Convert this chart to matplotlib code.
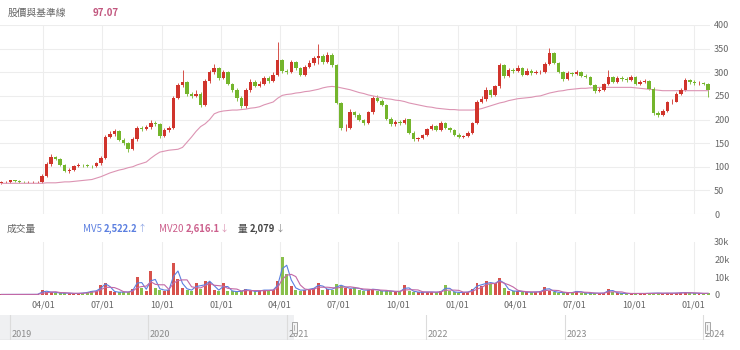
import numpy as np
import pandas as pd
import matplotlib
matplotlib.use("Agg")
import matplotlib.pyplot as plt
import matplotlib.dates as mdates
from matplotlib.patches import Rectangle

plt.rcParams['font.family'] = ['Noto Sans CJK TC', 'DejaVu Sans']

# ---------------------------------------------------------
# data (weekly candles, first week 2021-01-26)
# ---------------------------------------------------------
week_start = "2021-01-26"

closes = [67, 68, 71, 70, 68, 67, 67, 67, 67, 80,
          105, 120, 117, 104, 90, 94, 101, 104, 103, 102,
          101, 107, 118, 164, 170, 175, 157, 150, 138, 158,
          183, 180, 184, 192, 190, 165, 178, 182, 245, 272,
          280, 255, 250, 255, 230, 282, 300, 310, 287, 300,
          275, 263, 245, 228, 262, 280, 271, 276, 288, 282,
          295, 325, 303, 300, 322, 308, 295, 312, 320, 330,
          335, 322, 337, 315, 235, 182, 183, 215, 210, 199,
          192, 215, 246, 240, 230, 202, 190, 195, 193, 200,
          172, 158, 161, 167, 180, 186, 178, 192, 182, 177,
          168, 163, 165, 172, 192, 238, 244, 262, 252, 270,
          315, 292, 304, 303, 310, 295, 303, 298, 300, 300,
          318, 340, 320, 300, 285, 298, 296, 300, 293, 290,
          274, 260, 263, 275, 290, 280, 288, 285, 283, 290,
          275, 280, 281, 265, 213, 210, 218, 237, 238, 255,
          262, 283, 279, 277, 277, 275, 262]

opens = [66, 67, 68, 71, 70, 68, 67, 67, 67, 67,
         80, 105, 120, 117, 104, 90, 94, 101, 104, 103,
         102, 101, 107, 118, 164, 170, 175, 157, 150, 138,
         158, 183, 180, 184, 192, 190, 165, 178, 182, 245,
         272, 280, 255, 250, 255, 230, 282, 300, 310, 287,
         300, 275, 263, 245, 228, 262, 280, 271, 276, 288,
         282, 295, 325, 303, 300, 322, 308, 295, 312, 320,
         330, 335, 322, 337, 315, 235, 182, 183, 215, 210,
         199, 192, 215, 246, 240, 230, 202, 190, 195, 193,
         200, 172, 158, 161, 167, 180, 186, 178, 192, 182,
         177, 168, 163, 165, 172, 192, 238, 244, 262, 252,
         270, 315, 292, 304, 303, 310, 295, 303, 298, 300,
         300, 318, 340, 320, 300, 285, 298, 296, 300, 293,
         290, 274, 260, 263, 275, 290, 280, 288, 285, 283,
         290, 275, 280, 281, 265, 213, 210, 218, 237, 238,
         255, 262, 283, 279, 277, 277, 275]

highs = [69, 70, 73, 73, 71, 69, 69, 69, 69, 84,
         110, 126, 122, 118, 105, 97, 104, 107, 106, 105,
         104, 110, 122, 168, 175, 180, 177, 160, 152, 162,
         187, 186, 189, 198, 196, 192, 182, 186, 250, 278,
         305, 282, 258, 262, 258, 286, 305, 318, 312, 304,
         302, 278, 266, 250, 266, 286, 283, 281, 292, 292,
         300, 365, 328, 306, 326, 324, 311, 316, 325, 335,
         360, 338, 342, 340, 318, 238, 190, 222, 218, 213,
         201, 218, 250, 252, 244, 232, 206, 200, 198, 203,
         202, 176, 164, 170, 183, 190, 188, 196, 194, 185,
         180, 171, 168, 175, 195, 242, 250, 268, 265, 274,
         320, 318, 310, 310, 315, 312, 308, 306, 304, 305,
         322, 352, 342, 322, 302, 302, 300, 304, 302, 296,
         292, 276, 268, 278, 305, 292, 292, 292, 290, 294,
         292, 284, 285, 284, 268, 218, 222, 240, 243, 258,
         266, 287, 286, 284, 282, 280, 278]

lows = [64, 65, 66, 68, 66, 65, 65, 65, 65, 66,
        78, 102, 114, 102, 88, 87, 92, 99, 100, 99,
        98, 99, 104, 116, 160, 165, 155, 146, 132, 135,
        155, 176, 177, 180, 186, 160, 162, 174, 180, 243,
        268, 250, 245, 247, 226, 228, 278, 296, 284, 285,
        272, 258, 240, 225, 224, 258, 268, 268, 272, 278,
        280, 292, 298, 296, 298, 305, 292, 292, 308, 316,
        318, 318, 320, 312, 232, 178, 175, 180, 205, 196,
        188, 190, 212, 236, 228, 200, 186, 187, 189, 190,
        170, 154, 155, 158, 165, 178, 175, 176, 180, 174,
        165, 160, 160, 162, 170, 190, 234, 240, 248, 250,
        266, 288, 290, 298, 300, 292, 294, 295, 296, 297,
        298, 316, 318, 298, 282, 284, 292, 295, 290, 288,
        272, 256, 258, 260, 272, 278, 278, 282, 280, 282,
        272, 272, 277, 262, 210, 205, 207, 215, 233, 236,
        252, 260, 276, 274, 272, 272, 248]

base_line = [65, 65, 65, 65, 65, 65, 65, 65, 65, 65,
             66, 66, 66, 67, 68, 68, 69, 70, 71, 72,
             73, 76, 79, 83, 87, 90, 93, 95, 98, 100,
             104, 107, 110, 118, 125, 131, 133, 135, 136, 137,
             141, 152, 163, 175, 185, 191, 200, 212, 216, 218,
             219, 220, 220, 221, 222, 224, 225, 227, 231, 234,
             237, 245, 251, 253, 254, 256, 257, 259, 260, 262,
             264, 267, 269, 270, 269, 267, 265, 263, 260, 257,
             255, 252, 250, 248, 246, 244, 243, 241, 240, 238,
             235, 233, 231, 229, 227, 226, 224, 223, 222, 221,
             221, 220, 220, 220, 220, 221, 223, 226, 229, 232,
             235, 237, 240, 242, 244, 245, 246, 247, 249, 250,
             253, 256, 258, 260, 261, 263, 264, 265, 266, 266,
             267, 267, 268, 268, 268, 268, 268, 268, 268, 268,
             267, 266, 265, 264, 263, 262, 261, 261, 261, 261,
             261, 261, 261, 261, 261, 261, 261]

# volume in thousands of shares
volume_k = [0.3, 0.3, 0.3, 0.3, 0.3, 0.3, 0.3, 0.3, 0.4, 2.8,
            1.5, 1.8, 1.2, 1.0, 1.2, 0.9, 0.8, 0.9, 1.3, 1.6,
            2.5, 2.2, 5.6, 7.0, 2.5, 1.5, 1.6, 1.8, 1.5, 3.5,
            10.0, 4.0, 2.5, 13.5, 4.0, 3.0, 2.5, 3.0, 18.0, 9.0,
            4.0, 3.0, 2.5, 7.0, 3.5, 8.0, 7.5, 3.0, 2.5, 7.0,
            2.5, 2.0, 1.8, 2.5, 3.5, 2.0, 2.0, 2.5, 3.0, 2.5,
            3.0, 8.0, 21.5, 12.0, 5.0, 3.0, 2.5, 3.0, 3.5, 4.0,
            7.0, 3.0, 3.5, 3.0, 6.0, 5.0, 4.0, 3.5, 4.5, 3.0,
            2.5, 3.0, 3.5, 2.5, 2.0, 2.5, 2.0, 1.8, 2.0, 5.5,
            2.5, 1.8, 1.5, 1.5, 1.8, 1.6, 1.5, 2.0, 5.5, 2.0,
            1.5, 1.4, 1.5, 1.8, 3.5, 6.5, 5.0, 8.0, 6.0, 7.0,
            9.5, 4.0, 2.5, 2.0, 2.2, 1.8, 1.5, 1.6, 1.8, 2.0,
            4.5, 2.5, 1.6, 1.4, 1.3, 1.2, 1.5, 2.5, 1.2, 1.0,
            1.0, 1.1, 0.9, 1.2, 3.5, 1.5, 1.0, 0.9, 0.8, 0.8,
            0.9, 0.8, 0.9, 1.0, 1.2, 1.0, 0.9, 1.1, 0.9, 1.2,
            1.3, 1.4, 1.1, 1.0, 0.9, 0.8, 1.0]

quarter_ticks = ["2021-04-01", "2021-07-01", "2021-10-01", "2022-01-01",
                 "2022-04-01", "2022-07-01", "2022-10-01", "2023-01-01",
                 "2023-04-01", "2023-07-01", "2023-10-01", "2024-01-01"]
quarter_labels = ["04/01", "07/01", "10/01", "01/01", "04/01", "07/01",
                  "10/01", "01/01", "04/01", "07/01", "10/01", "01/01"]
price_ticks = [0, 50, 100, 150, 200, 250, 300, 350, 400]
vol_ticks = [0, 10000, 20000, 30000]
vol_tick_labels = ["0", "10k", "20k", "30k"]
nav_years = [2019, 2020, 2021, 2022, 2023, 2024]

# ---------------------------------------------------------
# styling
# ---------------------------------------------------------
UP = "#d0342c"
DOWN = "#74b52c"
BASE = "#dc94b3"
MV5_C = "#5b7fe0"
MV20_C = "#c268a6"
GRID = "#ededed"
TXT = "#666666"

W, H = 740, 350
main_range = (pd.Timestamp("2021-01-24"), pd.Timestamp("2024-01-26"))
nav_range = (pd.Timestamp("2018-12-06"), pd.Timestamp("2024-01-19"))
sel_range = (pd.Timestamp("2021-01-19"), pd.Timestamp("2024-01-12"))

dates = pd.date_range(week_start, periods=len(closes), freq="7D")
df = pd.DataFrame({"open": opens, "high": highs, "low": lows, "close": closes,
                   "base": base_line, "volume": np.array(volume_k) * 1000},
                  index=dates)
# bars are weekly, so 5-day ~ 1-2 weeks, 20-day ~ 4 weeks
df["mv5"] = df["volume"].rolling(2, min_periods=1).mean()
df["mv20"] = df["volume"].rolling(4, min_periods=1).mean()

x = mdates.date2num(df.index.to_pydatetime())
up = df["close"] >= df["open"]
colors = np.where(up, UP, DOWN)
body_lo = np.minimum(df["open"], df["close"])
body_h = np.maximum((df["close"] - df["open"]).abs(), 0.8)

fig = plt.figure(figsize=(W / 100, H / 100), dpi=100)
ax = fig.add_axes([0, 1 - 214 / H, 710 / W, 189 / H])
axv = fig.add_axes([0, 1 - 295 / H, 710 / W, 53.3 / H])
axn = fig.add_axes([0, 1 - 340 / H, 710 / W, 25 / H])

qx = mdates.date2num(pd.to_datetime(quarter_ticks).to_pydatetime())
xlim = mdates.date2num([d.to_pydatetime() for d in main_range])

# ---------------- price panel ----------------
ax.vlines(x, df["low"], df["high"], colors=colors, lw=0.6, zorder=2)
ax.bar(x, body_h, bottom=body_lo, width=5.4, color=colors, lw=0, zorder=3)
ax.plot(x, df["base"], color=BASE, lw=0.8, zorder=2)

ax.set_xlim(*xlim)
ax.set_ylim(0, 400)
ax.set_yticks(price_ticks)
ax.yaxis.tick_right()
ax.set_xticks(qx)
ax.tick_params(axis="x", length=0, labelbottom=False)
ax.tick_params(axis="y", length=0, pad=3, labelsize=6.5, labelcolor=TXT)
ax.grid(True, color=GRID, lw=0.8)
ax.set_axisbelow(True)
for s in ax.spines.values():
    s.set_visible(False)

# ---------------- volume panel ----------------
axv.bar(x, df["volume"], width=4.6, color=colors, lw=0, alpha=0.85, zorder=2)
axv.plot(x, df["mv5"], color=MV5_C, lw=0.8, zorder=3)
axv.plot(x, df["mv20"], color=MV20_C, lw=0.8, zorder=3)
axv.set_xlim(*xlim)
axv.set_ylim(0, 30000)
axv.set_yticks(vol_ticks)
axv.set_yticklabels(vol_tick_labels)
axv.yaxis.tick_right()
axv.set_xticks(qx)
axv.set_xticklabels(quarter_labels)
axv.tick_params(axis="x", length=0, pad=4, labelsize=6.5, labelcolor=TXT)
axv.tick_params(axis="y", length=0, pad=3, labelsize=6.5, labelcolor=TXT)
axv.grid(True, axis="x", color=GRID, lw=0.8)
axv.set_axisbelow(True)
for s in axv.spines.values():
    s.set_visible(False)

# ---------------- navigator ----------------
nx = mdates.date2num([d.to_pydatetime() for d in nav_range])
sx = mdates.date2num([d.to_pydatetime() for d in sel_range])
axn.set_xlim(*nx)
axn.set_ylim(0, 1)
axn.axvspan(nx[0], sx[0], color="#eff0f2", lw=0)
axn.axhline(0, color="#d4d4d4", lw=1)
for yr in nav_years:
    yx = mdates.date2num(pd.Timestamp(f"{yr}-01-01").to_pydatetime())
    axn.axvline(yx, color="#dcdcdc", lw=0.8)
    axn.text(yx + 4, 0.22, str(yr), fontsize=6.5, color="#8a8a8a", va="center")
for hx in sx:
    axn.add_patch(Rectangle((hx - 6, 0.3), 12, 0.42, facecolor="#f4f4f4",
                            edgecolor="#9a9a9a", lw=0.6, zorder=5, clip_on=False))
    axn.plot([hx, hx], [0.4, 0.62], color="#9a9a9a", lw=0.5, zorder=6, clip_on=False)
axn.set_xticks([])
axn.set_yticks([])
for s in axn.spines.values():
    s.set_visible(False)


# ---------------- legend texts ----------------
def chain(prev, text, gap, **kw):
    # place a text piece just right of the previous one
    return ax.annotate(text, xy=(1, 0.5), xycoords=prev, xytext=(gap, 0),
                       textcoords="offset points", va="center", ha="left",
                       annotation_clip=False, **kw)


ty = 1 - 13 / H
vy = 1 - 229 / H
fig.text(8 / W, ty, "股價與基準線", fontsize=7, color=TXT, va="center")
fig.text(93 / W, ty, "97.07", fontsize=7, color="#c2577f",
         va="center", fontweight="bold")
fig.text(7 / W, vy, "成交量", fontsize=7, color=TXT, va="center")

t = fig.text(83 / W, vy, "MV5", fontsize=7, color=MV5_C, va="center")
t = chain(t, "2,522.2", 1.5, fontsize=6.8, color=MV5_C, fontweight="bold")
chain(t, "↑", 0, fontsize=6.5, color="#8fa6e6")

t = fig.text(159 / W, vy, "MV20", fontsize=7, color="#cc5f8c", va="center")
t = chain(t, "2,616.1", 1.5, fontsize=6.8, color="#cc5f8c", fontweight="bold")
chain(t, "↓", 0, fontsize=6.5, color="#dc94b3")

t = fig.text(238 / W, vy, "量", fontsize=7, color="#444444", va="center")
t = chain(t, "2,079", 1.5, fontsize=6.8, color="#444444", fontweight="bold")
chain(t, "↓", 0, fontsize=6.5, color="#888888")

fig.savefig("out.png", dpi=100)
